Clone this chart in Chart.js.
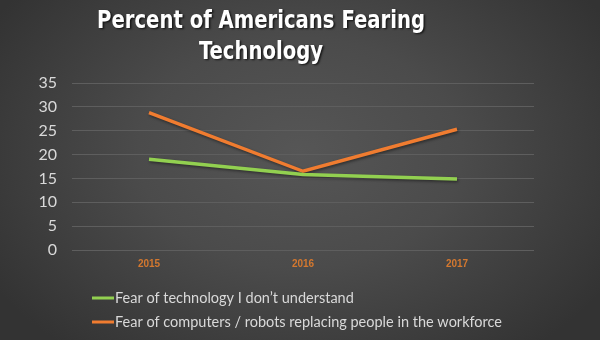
<!DOCTYPE html>
<html>
<head>
<meta charset="utf-8">
<script src="https://cdn.jsdelivr.net/npm/chart.js@4/dist/chart.umd.min.js"></script>
<style>
  html, body { margin: 0; padding: 0; }
  body {
    width: 600px; height: 340px; overflow: hidden;
    background: radial-gradient(ellipse 60% 75% at 50% 45%, #565656 0%, #4b4b4b 45%, #333333 100%);
  }
  #wrap { position: relative; width: 600px; height: 340px; }
</style>
</head>
<body>
<div id="wrap"><canvas id="canvas"></canvas></div>
<script>
const titleLines = ['Percent of Americans Fearing', 'Technology']
const years = ['2015', '2016', '2017']
const seriesNames = ['Fear of technology I don\u2019t understand', 'Fear of computers / robots replacing people in the workforce']
const techFear = [19, 15.8, 14.9]
const robotFear = [28.8, 16.5, 25.3]
const seriesColors = ['#92d050', '#f07c30']
const yTicks = [0, 5, 10, 15, 20, 25, 30, 35]

// title and legend drawn by hand so they sit where the original put them
const decorations = {
    id: 'decorations',
    afterDraw(chart) {
        const { ctx } = chart
        ctx.save()
        ctx.textAlign = 'center'
        ctx.textBaseline = 'middle'
        ctx.font = 'bold 25px "DejaVu Sans Condensed", "DejaVu Sans", sans-serif'
        // squeeze the title a bit, the original face is narrow
        const sx = 328 / ctx.measureText(titleLines[0]).width
        ctx.fillStyle = '#ffffff'
        ctx.shadowColor = 'rgba(0,0,0,0.7)'
        ctx.shadowOffsetX = 1.5
        ctx.shadowOffsetY = 1.5
        ctx.shadowBlur = 2
        ctx.translate(261, 0)
        ctx.scale(sx, 1)
        ctx.fillText(titleLines[0], 0, 21)
        ctx.fillText(titleLines[1], 0, 52)
        ctx.restore()

        ctx.save()
        ctx.font = '14.5px Lato, "Open Sans", sans-serif'
        ctx.textAlign = 'left'
        ctx.textBaseline = 'middle'
        const rows = [298, 322]
        seriesNames.forEach((name, i) => {
            ctx.strokeStyle = seriesColors[i]
            ctx.lineWidth = 3
            ctx.beginPath()
            ctx.moveTo(92, rows[i])
            ctx.lineTo(114, rows[i])
            ctx.stroke()
            ctx.fillStyle = '#d9d9d9'
            ctx.fillText(name, 115, rows[i])
        })
        ctx.restore()
    }
}

// soft shadow under the lines
const lineShadow = {
    id: 'lineShadow',
    beforeDatasetsDraw(chart) {
        chart.ctx.save()
        chart.ctx.shadowColor = 'rgba(0,0,0,0.45)'
        chart.ctx.shadowBlur = 3
        chart.ctx.shadowOffsetX = 1
        chart.ctx.shadowOffsetY = 1.5
    },
    afterDatasetsDraw(chart) {
        chart.ctx.restore()
    }
}

const configChart = {
    type: 'line',
    plugins: [lineShadow, decorations],
    data: {
        labels: years,
        datasets: [{
            label: seriesNames[0],
            data: techFear,
            borderColor: seriesColors[0],
            backgroundColor: seriesColors[0],
            borderWidth: 3.5,
            pointRadius: 0,
            tension: 0
        }, {
            label: seriesNames[1],
            data: robotFear,
            borderColor: seriesColors[1],
            backgroundColor: seriesColors[1],
            borderWidth: 3.5,
            pointRadius: 0,
            tension: 0
        }]
    },
    options: {
        responsive: false,
        animation: false,
        layout: {
            padding: { top: 83, right: 66, bottom: 64, left: 0 }
        },
        plugins: {
            legend: { display: false },
            tooltip: { enabled: false },
            title: { display: false }
        },
        scales: {
            x: {
                offset: true,
                grid: { display: false, drawTicks: false },
                border: { display: false },
                ticks: {
                    color: '#d4782f',
                    font: { family: '"Liberation Sans", Arial, sans-serif', size: 10, weight: 'bold' },
                    padding: 8
                },
                afterFit(axis) { axis.height = 26 }
            },
            y: {
                min: 0,
                max: 35,
                afterBuildTicks(axis) { axis.ticks = yTicks.map(v => ({ value: v })) },
                grid: { color: '#5e5e5e', lineWidth: 1, drawTicks: false },
                border: { display: false },
                ticks: {
                    color: '#d9d9d9',
                    font: { family: 'Lato, "Open Sans", sans-serif', size: 16 },
                    padding: 15
                },
                afterFit(axis) { axis.width = 72 }
            }
        }
    }
}

const canvas = document.getElementById('canvas')
canvas.width = 600
canvas.height = 340
const myChart = new Chart(canvas, configChart)
</script>
</body>
</html>
